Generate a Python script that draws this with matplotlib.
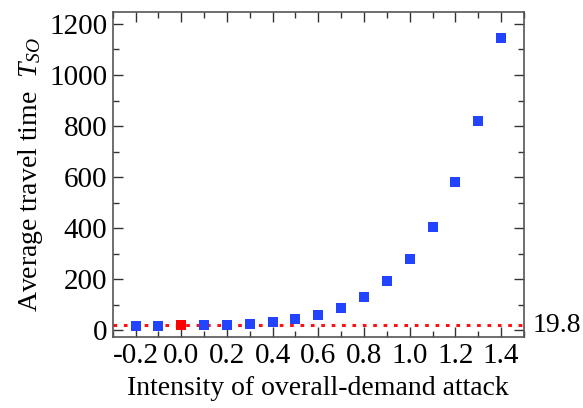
import numpy as np
import matplotlib
matplotlib.use('Agg')
import matplotlib.pyplot as plt
from matplotlib.ticker import MultipleLocator

plt.rcParams['font.family'] = ['Liberation Serif', 'DejaVu Serif']
plt.rcParams['mathtext.fontset'] = 'custom'
plt.rcParams['mathtext.it'] = 'Liberation Serif:italic'
plt.rcParams['mathtext.rm'] = 'Liberation Serif'

# attack intensity and average travel time
intensity = [-0.2, -0.1, 0.1, 0.2, 0.3, 0.4, 0.5, 0.6, 0.7, 0.8, 0.9, 1.0, 1.1, 1.2, 1.3, 1.4]
travel_time = [16, 16, 21, 22, 25, 31, 44, 60, 87, 130, 193, 280, 404, 580, 820, 1146]
base_x = [0.0]
base_t = [19.8]

fig = plt.figure(figsize=(5.83, 4.08), dpi=100)
ax = fig.add_axes([0.1933, 0.174, 0.7055, 0.7966])

ax.axhline(base_t[0], color='#ff1010', lw=2.2, ls=(0, (1.2, 2.2)), zorder=1)
ax.scatter(intensity, travel_time, marker='s', s=48, color='#2244ff', lw=0, zorder=3)
ax.scatter(base_x, base_t, marker='s', s=48, color='#ff0000', lw=0, zorder=3)

ax.set_xlim(-0.3, 1.5)
ax.set_ylim(-27, 1247)
ax.xaxis.set_major_locator(MultipleLocator(0.2))
ax.xaxis.set_minor_locator(MultipleLocator(0.1))
ax.yaxis.set_major_locator(MultipleLocator(200))
ax.yaxis.set_minor_locator(MultipleLocator(100))
ax.xaxis.set_major_formatter(matplotlib.ticker.FormatStrFormatter('%.1f'))

ax.tick_params(which='both', direction='in', top=True, right=True, labelsize=21, pad=4, color='#333333')
ax.tick_params(which='major', length=7, width=1)
ax.tick_params(which='minor', length=4, width=1)
for s in ax.spines.values():
    s.set_color('#555555')
    s.set_linewidth(1.2)

ax.text(1.02, base_t[0], '19.8', transform=ax.get_yaxis_transform(), fontsize=20, va='center', ha='left')

ax.set_xlabel('Intensity of overall-demand attack', fontsize=20, labelpad=5)
ax.set_ylabel('Average travel time  $T_{SO}$', fontsize=20, labelpad=3)

fig.savefig('out.png', dpi=100)
